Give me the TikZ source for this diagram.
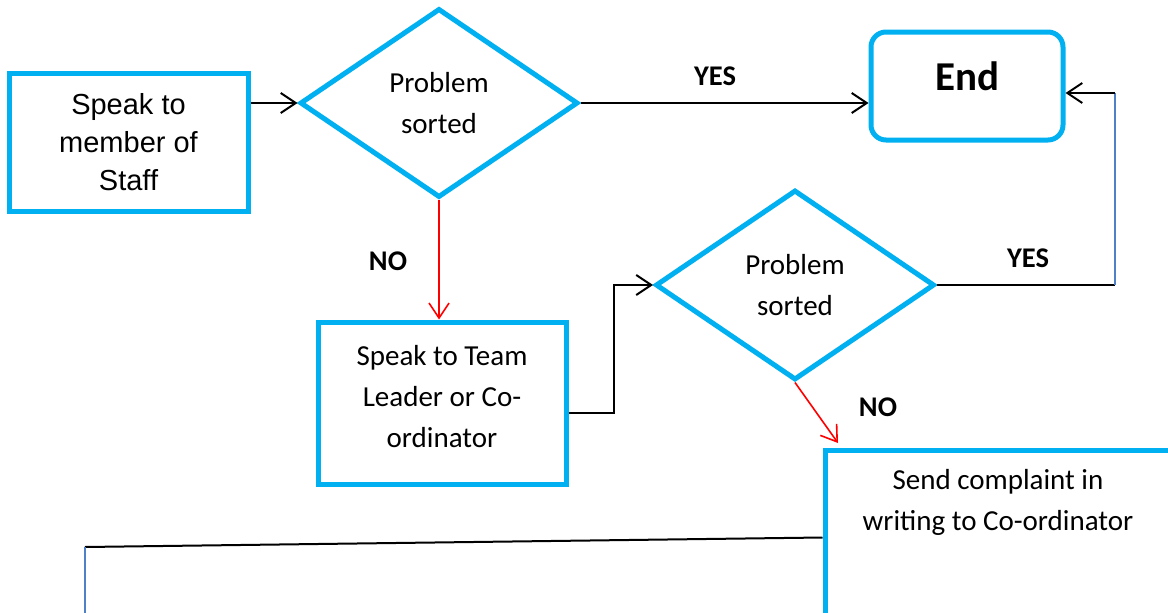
\documentclass[tikz,border=0pt]{standalone}
\usepackage{fontspec}
\setmainfont{Carlito}
\newfontfamily\arialf{Liberation Sans}
\usetikzlibrary{shapes.geometric,arrows.meta,calc}
\definecolor{cyanb}{HTML}{00B0F0}
\definecolor{bluel}{HTML}{4F81C8}
\begin{document}
\begin{tikzpicture}[x=1pt,y=-1pt,
  box/.style={draw=cyanb,line width=5pt,rectangle,inner sep=0pt,align=center},
  dia/.style={draw=cyanb,line width=5pt,diamond,inner sep=0pt,aspect=1.47,align=center,
     font=\fontsize{29}{41}\selectfont},
  conn/.style={draw=black,line width=2pt},
  arr/.style={conn,-{Straight Barb[length=15pt,width=20pt,line width=2pt]}},
  redarr/.style={draw=red,line width=1.6pt,-{Straight Barb[length=15pt,width=20pt,line width=1.6pt]}},
  blueline/.style={draw=bluel,line width=1.6pt},
  lbl/.style={font=\bfseries\fontsize{28.5}{32}\selectfont,inner sep=0pt}
]
\useasboundingbox (0,0) rectangle (1168,613);
\clip (0,0) rectangle (1168,613);

\node[box,minimum width=239pt,minimum height=138pt,font=\arialf\fontsize{29}{38}\selectfont]
  (b1) at (128.5,142) {Speak to\\member of\\Staff};
\node[dia,minimum width=278pt,minimum height=189pt] (d1) at (439,103) {Problem\\sorted};
\node[box,rounded corners=15pt,minimum width=192pt,minimum height=108pt,
  font=\bfseries\fontsize{41}{44}\selectfont,text depth=20pt] (e) at (967,86) {End};
\node[box,minimum width=248pt,minimum height=162pt,font=\fontsize{29}{41}\selectfont,
  text depth=14pt]
  (b2) at (442,403) {Speak to Team\\Leader or Co-\\ordinator};
\node[dia,minimum width=279pt,minimum height=190pt] (d2) at (795,285) {Problem\\sorted};
\node[box,minimum width=346pt,minimum height=175pt] (b3) at (998,537.5) {};
\node[align=center,font=\fontsize{29}{41}\selectfont,inner sep=0pt] (t3) at (998,502)
  {Send complaint in\\writing to Co-ordinator};

\node[lbl] (yes1) at (715,76) {YES};
\node[lbl] (no1) at (388,261) {NO};
\node[lbl] (yes2) at (1028,258) {YES};
\node[lbl] (no2) at (878,407) {NO};

\coordinate (r0) at (1115,0);
\coordinate (r2) at (1115,93);
\coordinate (n2) at (838,443);
\coordinate (l1) at (85,547);
\coordinate (l2) at (85,620);

\draw[arr] (d1.west -| b1.east) -- (d1.west);
\draw[arr] (d1.east) -- (d1.east -| e.west);
\draw[redarr] (d1.south) -- (d1.south |- b2.north);
\draw[arr] ([yshift=-10pt]b2.east) -- ++(45,0) |- (d2.west);
\draw[conn] (d2.east) -- (d2.east -| r0) coordinate (r1);
\draw[blueline] (r1) -- (r2);
\draw[arr] (r2) -- (r2 -| e.east);
\draw[redarr] (d2.south) -- (n2);
\draw[conn] (b3.west) -- (l1);
\draw[blueline] (l1) -- (l2);
\end{tikzpicture}
\end{document}
